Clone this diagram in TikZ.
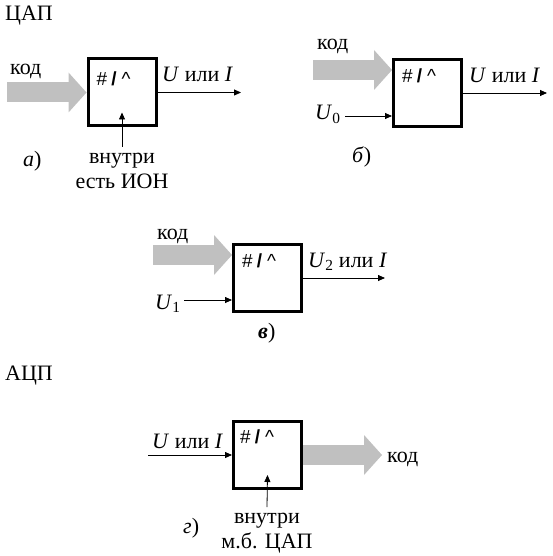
\documentclass[tikz,border=0pt]{standalone}
\usepackage{fontspec}
\setmainfont{Liberation Serif}
\newfontfamily\symfont{Liberation Sans}
\usetikzlibrary{arrows.meta,calc,positioning}
\definecolor{busgray}{RGB}{192,192,192}
\tikzset{
	conv/.style={draw, line width=3pt, minimum width=68pt, minimum height=67pt, inner sep=0pt},
	sig/.style={line width=0.8pt, -{Triangle[length=7pt,width=6pt]}},
	bus/.style={line width=20pt, busgray, -{Triangle[length=18pt,width=40pt,line width=0pt]}},
	txt/.style={font=\fontsize{22}{25}\selectfont, inner sep=0pt},
	symb/.style={font=\symfont\fontsize{19}{20}\selectfont, inner sep=0pt, anchor=base west},
	reflbl/.style={txt, align=center, anchor=north, inner ysep=6pt},
}
\newcommand{\convsym}{\#\hspace{4pt}\textbf{/}\hspace{5pt}\textasciicircum}
\begin{document}
\begin{tikzpicture}[x=1pt, y=-1pt]
	\useasboundingbox (0,0) rectangle (553,556);

	% ЦАП
	\node[txt, anchor=base west] (dactitle) at (5,21) {ЦАП};

	% а)
	\node[conv] (a) at (122,92.5) {};
	\node[symb] (asym) at ($(a.north west)+(10,28)$) {\convsym};
	\coordinate (ain) at (7,92.5);
	\draw[bus] (ain) -- (a.west);
	\node[txt, anchor=base west] (acode) at (10,75) {код};
	\coordinate (aout) at (241,92.5);
	\draw[sig] (a.east) -- (aout);
	\node[txt, anchor=base west] (aoutlbl) at (162,82) {\textit{U} или \textit{I}};
	\node[reflbl] (aref) at (122,147) {внутри\\есть ИОН};
	\draw[sig] (aref.north) -- ($(a.south)+(0,-15)$);
	\node[txt, anchor=base west] (alabel) at (23,167) {\textit{а})};

	% б)
	\node[conv] (b) at (427.5,93) {};
	\node[symb] (bsym) at ($(b.north west)+(10,25)$) {\convsym};
	\coordinate (bin) at (313,70);
	\draw[bus] (bin) -- (bin -| b.west);
	\node[txt, anchor=base west] (bcode) at (317,50) {код};
	\coordinate (bout) at (547,93);
	\draw[sig] (b.east) -- (bout);
	\node[txt, anchor=base west] (boutlbl) at (469,83) {\textit{U} или \textit{I}};
	\node[txt, anchor=base west] (bref) at (315,120) {\textit{U}\textsubscript{0}};
	\coordinate (bsrc) at (345,116);
	\draw[sig] (bsrc) -- (bsrc -| b.west);
	\node[txt, anchor=base west] (blabel) at (352,163) {\textit{б})};

	% в)
	\node[conv] (c) at (267.5,278) {};
	\node[symb] (csym) at ($(c.north west)+(10,24)$) {\convsym};
	\coordinate (cin) at (153,255);
	\draw[bus] (cin) -- (cin -| c.west);
	\node[txt, anchor=base west] (ccode) at (157,239) {код};
	\coordinate (cout) at (385,278);
	\draw[sig] (c.east) -- (cout);
	\node[txt, anchor=base west] (coutlbl) at (308,267) {\textit{U}\textsubscript{2} или \textit{I}};
	\node[txt, anchor=base west] (cref) at (155,309) {\textit{U}\textsubscript{1}};
	\coordinate (csrc) at (184,300);
	\draw[sig] (csrc) -- (csrc -| c.west);
	\node[txt, anchor=base west] (clabel) at (258,338) {\textbf{\textit{в}})};

	% АЦП
	\node[txt, anchor=base west] (adctitle) at (5,380) {АЦП};

	% г)
	\node[conv] (d) at (267.5,455) {};
	\node[symb] (dsym) at ($(d.north west)+(8,23)$) {\convsym};
	\coordinate (din) at (148,455);
	\draw[sig] (din) -- (d.west);
	\node[txt, anchor=base west] (dinlbl) at (152,448) {\textit{U} или \textit{I}};
	\coordinate (dout) at (382,455);
	\draw[bus] (d.east) -- (dout);
	\node[txt, anchor=base west] (dcode) at (387,462) {код};
	\node[reflbl] (dref) at (267,507) {внутри\\м.б. ЦАП};
	\draw[sig] (dref.north) -- ($(d.south)+(0,-15)$);
	\node[txt, anchor=base west] (dlabel) at (183,533) {\textit{г})};

\end{tikzpicture}
\end{document}
